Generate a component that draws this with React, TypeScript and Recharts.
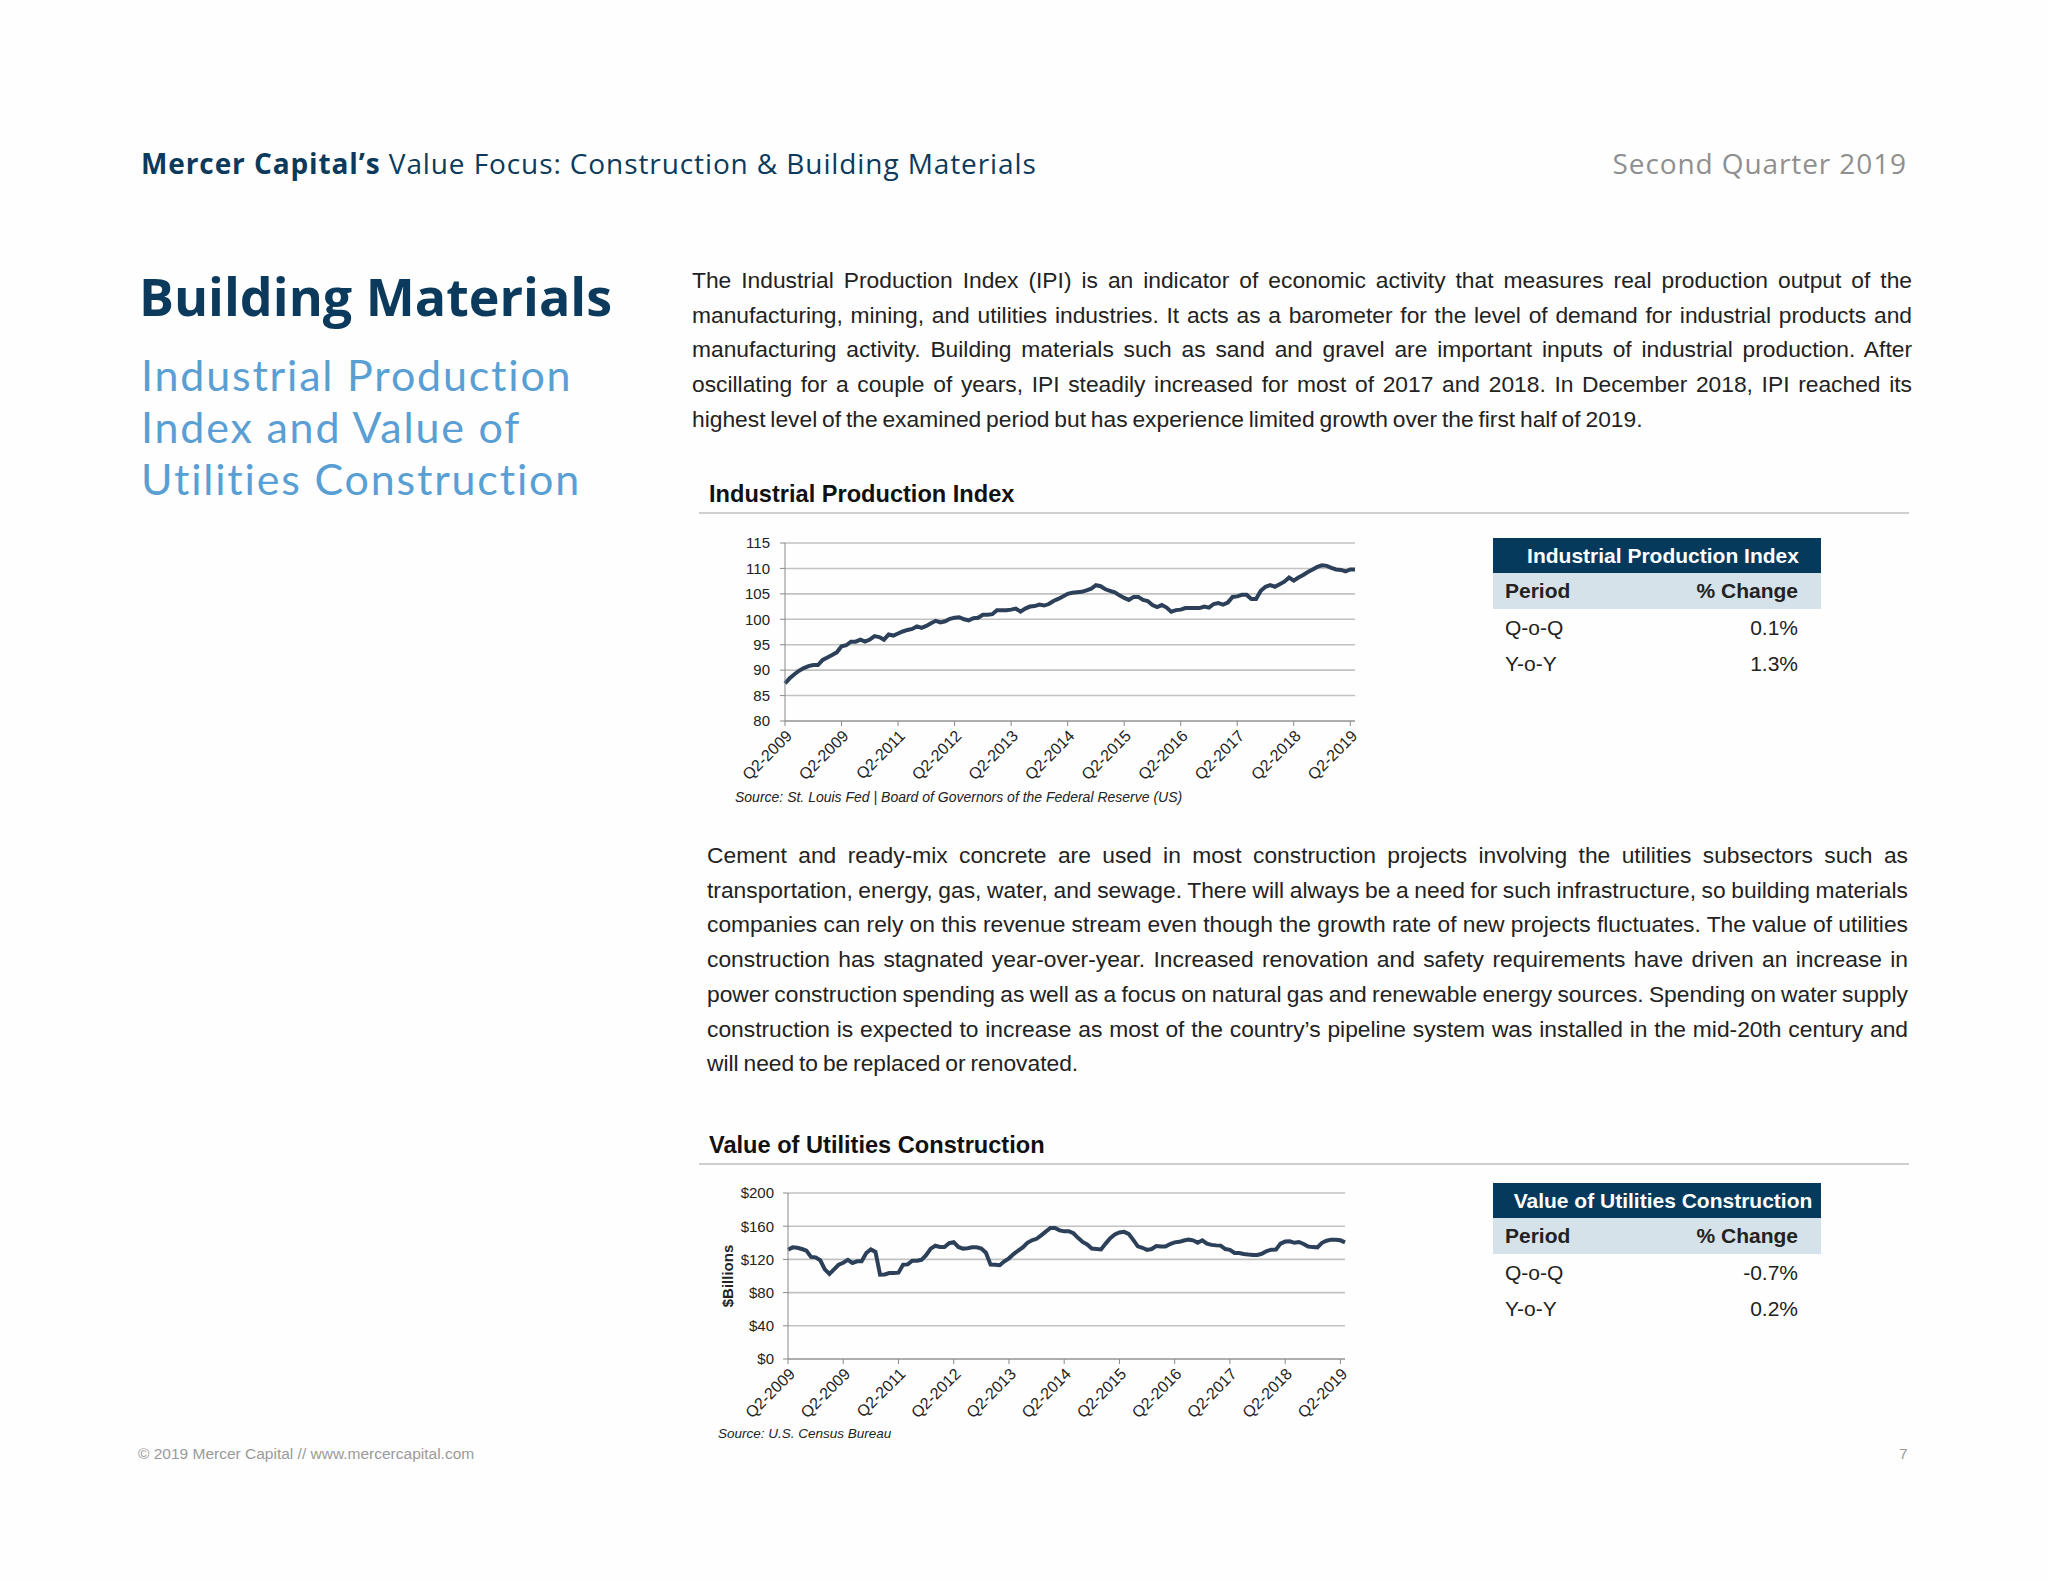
import React from 'react';
import { LineChart, Line, XAxis, YAxis, CartesianGrid, Label } from 'recharts';

// x-axis labels, one per 12 months (the duplicated 2009 is in the original)
const tickLabels = ['Q2-2009', 'Q2-2009', 'Q2-2011', 'Q2-2012', 'Q2-2013', 'Q2-2014', 'Q2-2015', 'Q2-2016', 'Q2-2017', 'Q2-2018', 'Q2-2019'];

// monthly Industrial Production Index, mid-2009 to mid-2019
const ipiValues = [
  87.4, 88.4, 89.2, 89.9, 90.4, 90.8, 91.0, 91.0, 92.0, 92.5, 93.0, 93.5,
  94.7, 94.9, 95.6, 95.6, 96.0, 95.6, 96.0, 96.7, 96.5, 96.0, 97.0, 96.8,
  97.2, 97.6, 97.9, 98.1, 98.6, 98.3, 98.7, 99.2, 99.7, 99.4, 99.6, 100.1,
  100.3, 100.4, 100.0, 99.8, 100.2, 100.3, 100.9, 100.9, 101.0, 101.8, 101.8, 101.8,
  101.9, 102.1, 101.5, 102.1, 102.5, 102.6, 102.9, 102.7, 103.0, 103.6, 104.0, 104.5,
  105.0, 105.2, 105.3, 105.4, 105.7, 106.0, 106.7, 106.5, 105.9, 105.6, 105.3, 104.7,
  104.2, 103.8, 104.4, 104.4, 103.8, 103.6, 102.8, 102.4, 102.8, 102.3, 101.5, 101.8,
  101.9, 102.2, 102.2, 102.2, 102.2, 102.5, 102.3, 103.0, 103.2, 102.9, 103.3, 104.4,
  104.5, 104.8, 104.8, 104.0, 104.0, 105.6, 106.4, 106.7, 106.4, 106.9, 107.4, 108.2,
  107.6, 108.2, 108.7, 109.3, 109.8, 110.3, 110.6, 110.5, 110.1, 109.8, 109.7, 109.4,
  109.8, 109.8,
];

// monthly value of utilities construction, $ billions
const utilitiesValues = [
  131.7, 134.5, 134.0, 132.5, 130.5, 123.0, 122.5, 119.0, 108.0, 102.5, 108.0, 113.5,
  116.0, 119.5, 115.7, 117.7, 117.7, 127.7, 132.0, 129.0, 101.6, 101.8, 103.6, 103.6,
  104.0, 113.7, 114.0, 118.5, 118.5, 119.5, 125.0, 133.0, 136.5, 135.0, 135.0, 139.5,
  140.8, 135.0, 133.0, 133.5, 134.5, 134.5, 133.0, 128.0, 113.7, 113.5, 113.0, 117.7,
  121.3, 126.5, 130.5, 134.5, 140.0, 143.0, 144.8, 149.0, 153.5, 157.8, 157.8, 155.0,
  153.8, 154.0, 151.5, 146.0, 141.0, 138.0, 133.0, 132.5, 132.0, 139.0, 145.5, 150.0,
  152.5, 153.2, 150.8, 143.5, 135.7, 134.0, 131.5, 132.5, 136.0, 135.5, 135.5, 138.5,
  140.5, 141.2, 142.8, 143.8, 143.0, 140.0, 143.0, 139.0, 137.5, 136.9, 136.6, 132.5,
  131.5, 127.7, 127.7, 126.5, 125.8, 125.3, 125.3, 127.0, 130.0, 131.7, 132.0, 139.0,
  141.5, 141.8, 140.0, 141.0, 138.5, 135.5, 134.8, 134.5, 140.0, 142.5, 143.8, 143.8,
  143.0, 140.6,
];

const ipiTicks = [80, 85, 90, 95, 100, 105, 110, 115];
const utilitiesTicks = [0, 40, 80, 120, 160, 200];

const periods = ['Q-o-Q', 'Y-o-Y'];
const ipiChanges = ['0.1%', '1.3%'];
const utilitiesChanges = ['-0.7%', '0.2%'];

const ipiData = ipiValues.map((value, idx) => ({ idx, value }));
const utilitiesData = utilitiesValues.map((value, idx) => ({ idx, value }));
const xTicks = tickLabels.map((_, i) => i * 12);

const NAVY = '#0b3a5c';
const LINE = '#2c405a';
const GRID = '#c2c2c2';
const AXIS = '#8a8a8a';
const SANS = '"Liberation Sans", Arial, Helvetica, sans-serif';
const DISPLAY = '"Open Sans", "Noto Sans", sans-serif';

const subtitleLines = ['Industrial Production', 'Index and Value of', 'Utilities Construction'];

const AngledTick = ({ x, y, payload }: any) => (
  <g transform={`translate(${x + 4},${y + 5})`}>
    <text x={0} y={0} dy="0.35em" textAnchor="end" transform="rotate(-45)" fill="#222" fontSize={16} fontFamily={SANS}>
      {tickLabels[payload.value / 12]}
    </text>
  </g>
);

const para1 = [
  'The Industrial Production Index (IPI) is an indicator of economic activity that measures real production output of the',
  'manufacturing, mining, and utilities industries.  It acts as a barometer for the level of demand for industrial products and',
  'manufacturing activity. Building materials such as sand and gravel are important inputs of industrial production.  After',
  'oscillating for a couple of years, IPI steadily increased for most of 2017 and 2018.  In December 2018, IPI reached its',
  'highest level of the examined period but has experience limited growth over the first half of 2019.',
];

const para2 = [
  'Cement and ready-mix concrete are used in most construction projects involving the utilities subsectors such as',
  'transportation, energy, gas, water, and sewage. There will always be a need for such infrastructure, so building materials',
  'companies can rely on this revenue stream even though the growth rate of new projects fluctuates.  The value of utilities',
  'construction has stagnated year-over-year. Increased renovation and safety requirements have driven an increase in',
  'power construction spending as well as a focus on natural gas and renewable energy sources.  Spending on water supply',
  'construction is expected to increase as most of the country\u2019s pipeline system was installed in the mid-20th century and',
  'will need to be replaced or renovated.',
];

const Paragraph = ({ lines, left, top, width }: { lines: string[]; left: number; top: number; width: number }) => (
  <div style={{ position: 'absolute', left, top, width, fontFamily: SANS, fontSize: 22.8, wordSpacing: -1.5, lineHeight: '34.7px', color: '#222' }}>
    {lines.map((line, i) => (
      <div
        key={i}
        style={{
          textAlign: 'justify',
          textAlignLast: i === lines.length - 1 ? 'left' : 'justify',
          whiteSpace: 'nowrap',
        }}
      >
        {line}
      </div>
    ))}
  </div>
);

const ChangeTable = ({ title, values, left, top }: { title: string; values: string[]; left: number; top: number }) => (
  <div style={{ position: 'absolute', left, top, width: 328, fontFamily: SANS, fontSize: 21, color: '#222' }}>
    <div style={{ background: '#053a5c', color: '#fff', fontWeight: 700, height: 35, lineHeight: '35px', textAlign: 'center', paddingLeft: 12 }}>
      {title}
    </div>
    <div style={{ background: '#d6e2e9', fontWeight: 700, height: 36, lineHeight: '36px', display: 'flex', justifyContent: 'space-between', padding: '0 23px 0 12px' }}>
      <span>Period</span>
      <span>% Change</span>
    </div>
    {periods.map((p, i) => (
      <div key={p} style={{ height: 36, lineHeight: '38px', display: 'flex', justifyContent: 'space-between', padding: '0 23px 0 12px' }}>
        <span>{p}</span>
        <span>{values[i]}</span>
      </div>
    ))}
  </div>
);

const SectionTitle = ({ text, top }: { text: string; top: number }) => (
  <>
    <div style={{ position: 'absolute', left: 709, top: top - 13, fontFamily: SANS, fontWeight: 700, fontSize: 23.6, lineHeight: '26px', color: '#111' }}>
      {text}
    </div>
    <div style={{ position: 'absolute', left: 699, top: top + 18, width: 1210, height: 1.5, background: '#cfcfcf' }} />
  </>
);

const App = (): React.ReactElement => (
  <div style={{ position: 'absolute', left: 0, top: 0, width: 2048, height: 1582, background: '#fefefe', overflow: 'hidden' }}>
    {/* running header */}
    <div style={{ position: 'absolute', left: 141, top: 148, fontFamily: DISPLAY, fontSize: 28, letterSpacing: 0.9, lineHeight: '30px', color: NAVY }}>
      <span style={{ fontWeight: 700 }}>Mercer Capital&rsquo;s</span> Value Focus: Construction &amp; Building Materials
    </div>
    <div style={{ position: 'absolute', right: 141, top: 148, fontFamily: DISPLAY, fontSize: 28, letterSpacing: 0.9, lineHeight: '30px', color: '#8f8f8f' }}>
      Second Quarter 2019
    </div>

    {/* left column */}
    <div style={{ position: 'absolute', left: 139, top: 266, fontFamily: DISPLAY, fontWeight: 700, fontSize: 52, lineHeight: '60px', color: NAVY }}>
      Building Materials
    </div>
    {subtitleLines.map((line, i) => (
      <div
        key={line}
        style={{ position: 'absolute', left: 141, top: 349 + i * 52, fontFamily: 'Lato, "Open Sans", sans-serif', fontSize: 43, letterSpacing: 1.8, lineHeight: '52px', color: '#5a9fd4', whiteSpace: 'nowrap' }}
      >
        {line}
      </div>
    ))}

    <Paragraph lines={para1} left={692} top={263} width={1220} />

    <SectionTitle text="Industrial Production Index" top={494} />

    <div style={{ position: 'absolute', left: 700, top: 525 }}>
      <LineChart width={665} height={266} data={ipiData} margin={{ top: 18, right: 10, bottom: 0, left: 0 }}>
        <CartesianGrid vertical={false} stroke={GRID} strokeWidth={1.6} />
        <XAxis
          dataKey="idx"
          type="number"
          domain={[0, 121]}
          ticks={xTicks}
          interval={0}
          height={70}
          stroke={AXIS}
          tickSize={5}
          tick={<AngledTick />}
        />
        <YAxis
          domain={[80, 115]}
          ticks={ipiTicks}
          width={85}
          stroke={AXIS}
          tickSize={5}
          tickMargin={10}
          tick={{ fill: '#222', fontSize: 15, fontFamily: SANS }}
        />
        <Line type="linear" dataKey="value" stroke={LINE} strokeWidth={4} dot={false} isAnimationActive={false} />
      </LineChart>
    </div>
    <div style={{ position: 'absolute', left: 735, top: 789, fontFamily: SANS, fontStyle: 'italic', fontSize: 14, color: '#222' }}>
      Source: St. Louis Fed | Board of Governors of the Federal Reserve (US)
    </div>

    <ChangeTable title="Industrial Production Index" values={ipiChanges} left={1493} top={538} />

    <Paragraph lines={para2} left={707} top={838} width={1201} />

    <SectionTitle text="Value of Utilities Construction" top={1145} />

    <div style={{ position: 'absolute', left: 700, top: 1175 }}>
      <LineChart width={655} height={254} data={utilitiesData} margin={{ top: 18, right: 10, bottom: 0, left: 0 }}>
        <CartesianGrid vertical={false} stroke={GRID} strokeWidth={1.6} />
        <XAxis
          dataKey="idx"
          type="number"
          domain={[0, 121]}
          ticks={xTicks}
          interval={0}
          height={70}
          stroke={AXIS}
          tickSize={5}
          tick={<AngledTick />}
        />
        <YAxis
          domain={[0, 200]}
          ticks={utilitiesTicks}
          width={88}
          stroke={AXIS}
          tickSize={5}
          tickMargin={9}
          tickFormatter={(v: number) => `$${v}`}
          tick={{ fill: '#222', fontSize: 15, fontFamily: SANS }}
        >
          <Label value="$Billions" angle={-90} position="center" dx={-16} style={{ fontSize: 15, fontWeight: 700, fontFamily: SANS, fill: '#222' }} />
        </YAxis>
        <Line type="linear" dataKey="value" stroke={LINE} strokeWidth={4} dot={false} isAnimationActive={false} />
      </LineChart>
    </div>
    <div style={{ position: 'absolute', left: 718, top: 1426, fontFamily: SANS, fontStyle: 'italic', fontSize: 13.5, color: '#222' }}>
      Source: U.S. Census Bureau
    </div>

    <ChangeTable title="Value of Utilities Construction" values={utilitiesChanges} left={1493} top={1183} />

    {/* footer */}
    <div style={{ position: 'absolute', left: 138, top: 1445, fontFamily: SANS, fontSize: 15.5, color: '#9a9a9a' }}>
      &copy; 2019 Mercer Capital // www.mercercapital.com
    </div>
    <div style={{ position: 'absolute', left: 1899, top: 1445, fontFamily: SANS, fontSize: 15.5, color: '#9a9a9a' }}>7</div>
  </div>
);

export default App;
